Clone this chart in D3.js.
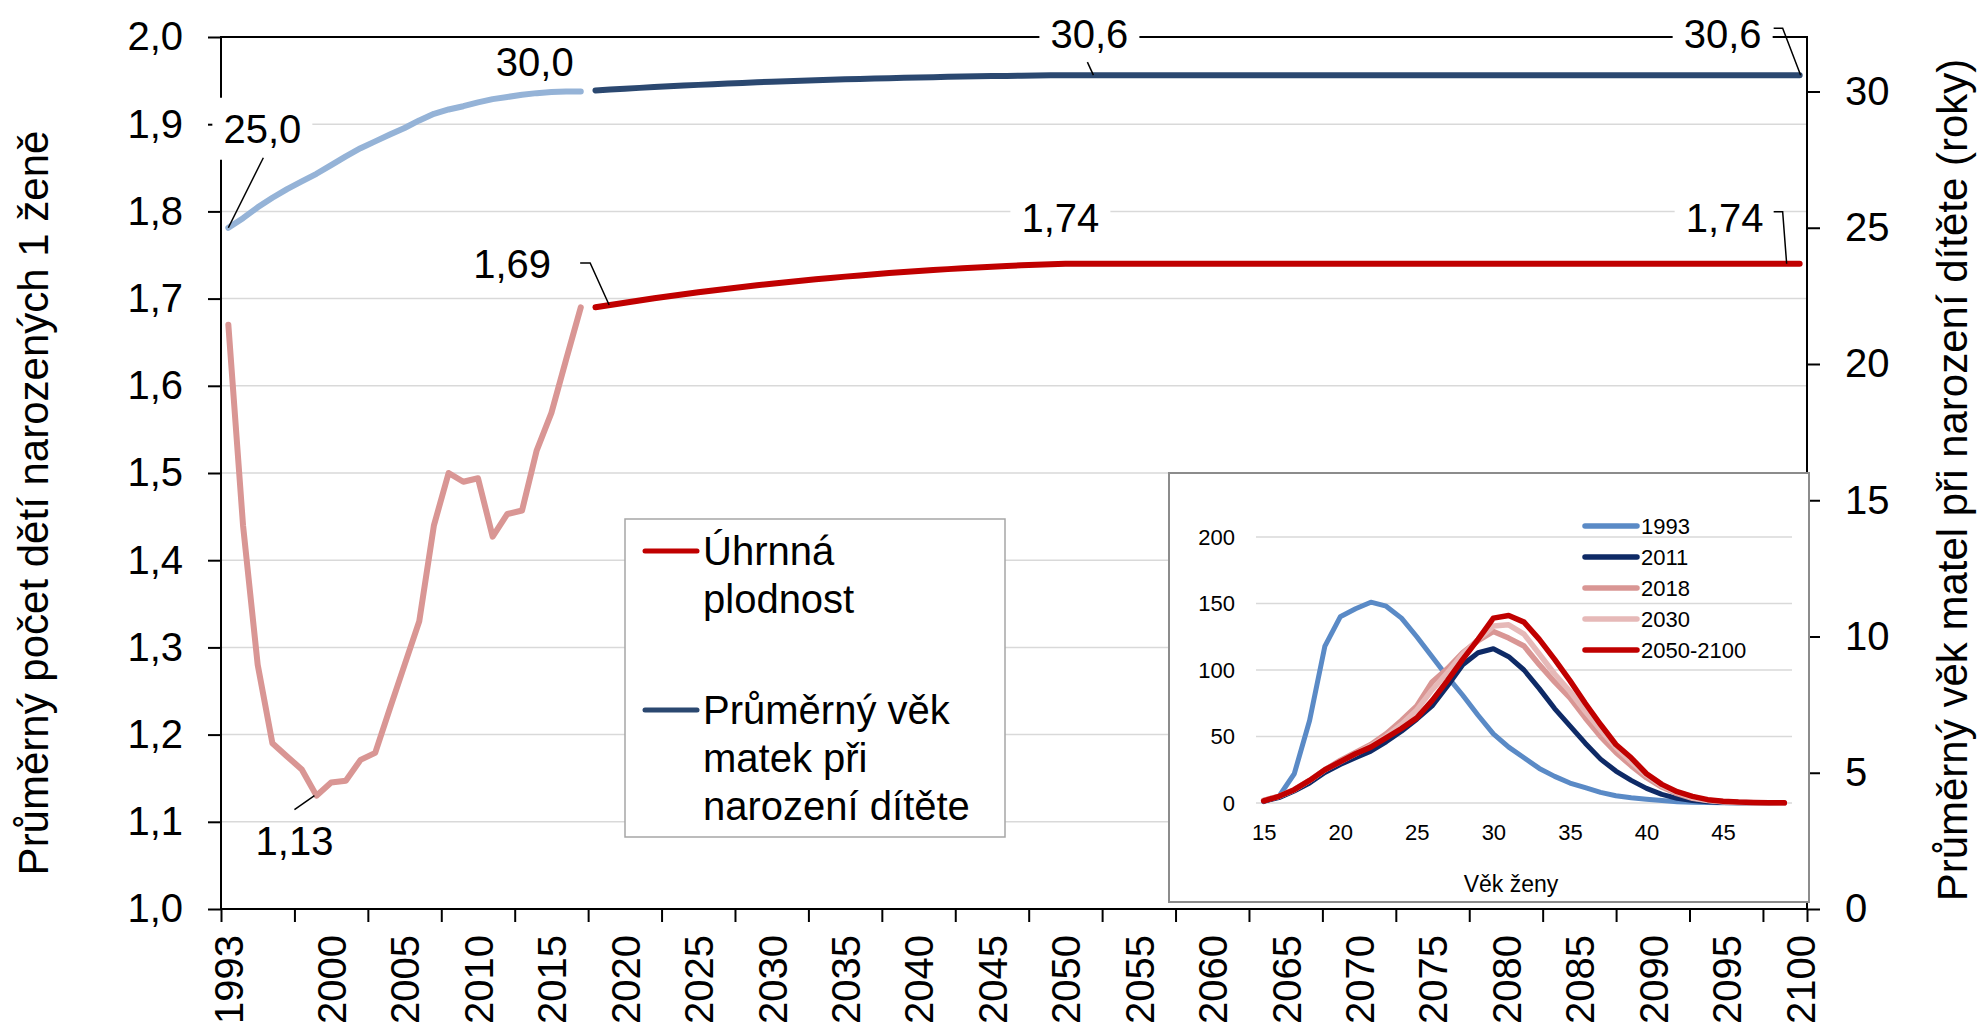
<!DOCTYPE html>
<html>
<head>
<meta charset="utf-8">
<script src="https://cdn.jsdelivr.net/npm/d3@7"></script>
<style>
  body { margin: 0; background: #fff; }
  svg { display: block; font-family: "Liberation Sans", Arial, sans-serif; }
</style>
</head>
<body>
<div id="chart"></div>
<script>
// skutečnost 1993-2017
const histYears = [1993, 1994, 1995, 1996, 1997, 1998, 1999, 2000, 2001, 2002, 2003, 2004, 2005,
                   2006, 2007, 2008, 2009, 2010, 2011, 2012, 2013, 2014, 2015, 2016, 2017];
const histTfr = [1.67, 1.44, 1.28, 1.19, 1.175, 1.16, 1.13, 1.145, 1.147, 1.171, 1.179, 1.23, 1.28,
                 1.33, 1.44, 1.50, 1.49, 1.494, 1.427, 1.453, 1.457, 1.526, 1.569, 1.63, 1.69];
const histAge = [25.0, 25.35, 25.75, 26.1, 26.42, 26.7, 26.98, 27.3, 27.62, 27.92, 28.17, 28.42, 28.66,
                 28.94, 29.18, 29.34, 29.46, 29.6, 29.72, 29.8, 29.88, 29.94, 29.98, 30.0, 30.0];

// projekce 2018-2100
const projYears = [2018, 2019, 2020, 2021, 2022, 2023, 2024, 2025, 2026, 2027, 2028, 2029, 2030,
                   2031, 2032, 2033, 2034, 2035, 2036, 2037, 2038, 2039, 2040, 2041, 2042, 2043,
                   2044, 2045, 2046, 2047, 2048, 2049, 2050, 2060, 2070, 2080, 2090, 2100];
const projTfr = [1.6900, 1.6927, 1.6953, 1.6979, 1.7003, 1.7027, 1.7050, 1.7072, 1.7093, 1.7113, 1.7133,
                 1.7152, 1.7170, 1.7188, 1.7205, 1.7221, 1.7237, 1.7252, 1.7266, 1.7280, 1.7293, 1.7305,
                 1.7317, 1.7328, 1.7338, 1.7348, 1.7357, 1.7366, 1.7374, 1.7382, 1.7389, 1.7395, 1.74,
                 1.74, 1.74, 1.74, 1.74, 1.74];
const projAge = [30.040, 30.072, 30.103, 30.133, 30.162, 30.190, 30.217, 30.243, 30.268, 30.292, 30.315,
                 30.337, 30.358, 30.378, 30.397, 30.415, 30.432, 30.448, 30.463, 30.477, 30.490, 30.503,
                 30.515, 30.526, 30.537, 30.547, 30.556, 30.565, 30.573, 30.580, 30.587, 30.594, 30.6,
                 30.6, 30.6, 30.6, 30.6, 30.6];

const tickYears = [1993, 2000, 2005, 2010, 2015, 2020, 2025, 2030, 2035, 2040, 2045, 2050,
                   2055, 2060, 2065, 2070, 2075, 2080, 2085, 2090, 2095, 2100];
const leftTicks = [1.0, 1.1, 1.2, 1.3, 1.4, 1.5, 1.6, 1.7, 1.8, 1.9, 2.0];
const rightTicks = [0, 5, 10, 15, 20, 25, 30];

// vložený graf - plodnost podle věku
const ages = [15, 16, 17, 18, 19, 20, 21, 22, 23, 24, 25, 26, 27, 28, 29, 30, 31, 32,
              33, 34, 35, 36, 37, 38, 39, 40, 41, 42, 43, 44, 45, 46, 47, 48, 49];
const asfr1993 = [1, 5, 22, 62, 118, 140, 146, 151, 148, 139, 125, 110, 95, 81, 66, 52, 42, 34,
                  26, 20, 15, 11.5, 8, 5.5, 4, 2.8, 1.8, 1, 0.6, 0.3, 0.2, 0.1, 0.05, 0.02, 0.01];
const asfr2011 = [1.5, 4, 9, 15, 23, 29, 34, 39, 46, 54, 63, 73, 88, 104, 113, 116, 110, 100,
                  86, 71, 58, 45, 33, 24, 17, 11, 6.5, 3.5, 1.8, 0.9, 0.4, 0.2, 0.1, 0.05, 0.02];
const asfr2018 = [2, 5, 10, 17, 25, 32, 38, 44, 52, 62, 73, 91, 101, 113, 122, 129, 124, 118,
                  104, 91, 79, 64, 50, 38, 28, 19, 12, 7, 3.5, 1.8, 0.9, 0.4, 0.2, 0.1, 0.05];
const asfr2030 = [2, 5, 10, 17, 25, 31, 37, 43, 50, 59, 70, 85, 98, 112, 123, 133, 134, 127,
                  112, 97, 84, 69, 55, 42, 31, 21, 13, 8, 4, 2, 1, 0.5, 0.2, 0.1, 0.05];
const asfr2050 = [1.5, 5, 10, 17, 25, 31, 37, 42, 49, 56, 64, 77, 92, 108, 123, 139, 141, 136,
                  123, 108, 92, 75, 59, 44, 34, 22, 14, 8.5, 5, 2.5, 1.3, 0.7, 0.4, 0.2, 0.1];
const insetNames = ["1993", "2011", "2018", "2030", "2050-2100"];
const insetValues = [asfr1993, asfr2011, asfr2018, asfr2030, asfr2050];
const insetColors = ["#5a8ac6", "#0e2a66", "#d99694", "#e6b9b8", "#c00000"];
const insetTicksX = [15, 20, 25, 30, 35, 40, 45];
const insetTicksY = [0, 50, 100, 150, 200];

const W = 1977, H = 1031;
const m = { left: 221, right: 1807, top: 37, bottom: 909 };

const cz = d3.formatLocale({ decimal: ",", thousands: " ", grouping: [3], currency: ["", " Kč"] });
const fmt1 = cz.format(".1f");
const fmt2 = cz.format(".2f");

const svg = d3.select("#chart").append("svg")
    .attr("width", W)
    .attr("height", H);

const x = d3.scaleLinear().domain([1992.5, 2100.5]).range([m.left, m.right]);
const yL = d3.scaleLinear().domain([1.0, 2.0]).range([m.bottom, m.top]);
const yR = d3.scaleLinear().domain([0, 32]).range([m.bottom, m.top]);

// mřížka
svg.append("g")
    .selectAll("line")
    .data(leftTicks.slice(1, -1))
    .enter()
    .append("line")
    .attr("x1", m.left).attr("x2", m.right)
    .attr("y1", d => yL(d)).attr("y2", d => yL(d))
    .attr("stroke", "#d9d9d9")
    .attr("stroke-width", 1.5);

function styleAxis(g, size) {
    g.attr("font-size", size).attr("font-family", null);
    g.select(".domain").remove();
    g.selectAll(".tick line").attr("stroke", "#000").attr("stroke-width", 2);
    g.selectAll("text").attr("fill", "#000");
}

// osy
svg.append("g")
    .attr("transform", `translate(${m.left},0)`)
    .call(d3.axisLeft(yL).tickValues(leftTicks).tickSize(13).tickPadding(25).tickFormat(fmt1))
    .call(g => styleAxis(g, 40));

svg.append("g")
    .attr("transform", `translate(${m.right},0)`)
    .call(d3.axisRight(yR).tickValues(rightTicks).tickSize(13).tickPadding(25).tickFormat(d3.format("d")))
    .call(g => styleAxis(g, 40));

const boundaries = d3.range(1992.5, 2100, 5).concat([2100.5]);
svg.append("g")
    .attr("transform", `translate(0,${m.bottom})`)
    .call(d3.axisBottom(x).tickValues(boundaries).tickSize(13).tickFormat(""))
    .call(g => styleAxis(g, 40));

svg.append("g")
    .attr("transform", `translate(0,${m.bottom})`)
    .call(d3.axisBottom(x).tickValues(tickYears).tickSize(0).tickFormat(d3.format("d")))
    .call(g => styleAxis(g, 40))
    .call(g => g.selectAll("text")
        .attr("transform", "rotate(-90)")
        .attr("x", -26)
        .attr("y", 0)
        .attr("dy", "0.36em")
        .attr("text-anchor", "end"));

// rámeček plochy
svg.append("rect")
    .attr("x", m.left).attr("y", m.top)
    .attr("width", m.right - m.left).attr("height", m.bottom - m.top)
    .attr("fill", "none")
    .attr("stroke", "#000")
    .attr("stroke-width", 2);

// názvy os
svg.append("text")
    .attr("transform", "translate(48,503) rotate(-90)")
    .attr("text-anchor", "middle")
    .attr("font-size", 42)
    .text("Průměrný počet dětí narozených 1 ženě");

svg.append("text")
    .attr("transform", "translate(1967,480) rotate(-90)")
    .attr("text-anchor", "middle")
    .attr("font-size", 42)
    .text("Průměrný věk matel při narození dítěte (roky)");

// křivky
const lineL = d3.line().x(d => x(d[0])).y(d => yL(d[1]));
const lineR = d3.line().x(d => x(d[0])).y(d => yR(d[1]));

const series = [
    { years: histYears, vals: histTfr, gen: lineL, color: "#d99694" },
    { years: projYears, vals: projTfr, gen: lineL, color: "#c00000" },
    { years: histYears, vals: histAge, gen: lineR, color: "#95b3d7" },
    { years: projYears, vals: projAge, gen: lineR, color: "#2b4870" }
];

svg.append("g")
    .selectAll("path")
    .data(series)
    .enter()
    .append("path")
    .attr("d", s => s.gen(d3.zip(s.years, s.vals)))
    .attr("fill", "none")
    .attr("stroke", s => s.color)
    .attr("stroke-width", 6)
    .attr("stroke-linejoin", "round")
    .attr("stroke-linecap", "round");

// popisky hodnot
function valueAt(years, vals, yr) { return vals[years.indexOf(yr)]; }

const labels = [
    { yr: 1993, v: valueAt(histYears, histAge, 1993), sc: yR, txt: fmt1(valueAt(histYears, histAge, 1993)),
      dx: 34, dy: -85, box: true, leader: [[0, 0], [35, -70]] },
    { yr: 2017, v: valueAt(histYears, histAge, 2017), sc: yR, txt: fmt1(valueAt(histYears, histAge, 2017)),
      dx: -46, dy: -16 },
    { yr: 2019, v: valueAt(projYears, projTfr, 2019), sc: yL, txt: fmt2(valueAt(histYears, histTfr, 2017)),
      dx: -98, dy: -27, leader: [[-1, 0], [-20, -42], [-30, -42]] },
    { yr: 1999, v: d3.min(histTfr), sc: yL, txt: fmt2(d3.min(histTfr)),
      dx: -22, dy: 59, leader: [[-2, 0], [-22, 14]] },
    { yr: 2050, v: valueAt(projYears, projTfr, 2050), sc: yL, txt: fmt2(valueAt(projYears, projTfr, 2050)),
      dx: -5, dy: -32, box: true },
    { yr: 2100, v: valueAt(projYears, projTfr, 2100), sc: yL, txt: fmt2(valueAt(projYears, projTfr, 2100)),
      dx: -75, dy: -32, box: true, leader: [[-13, 0], [-17, -52], [-26, -52]] },
    { yr: 2050, v: valueAt(projYears, projAge, 2050), sc: yR, txt: fmt1(valueAt(projYears, projAge, 2050)),
      dx: 24, dy: -27, box: true, leader: [[28, 0], [22, -13]] },
    { yr: 2100, v: valueAt(projYears, projAge, 2100), sc: yR, txt: fmt1(valueAt(projYears, projAge, 2100)),
      dx: -77, dy: -27, box: true, leader: [[1, 0], [-17, -47], [-26, -47]] }
];

const lab = svg.append("g").selectAll("g").data(labels).enter().append("g")
    .attr("transform", d => `translate(${x(d.yr)},${d.sc(d.v)})`);

lab.filter(d => d.box).append("rect")
    .attr("x", d => d.dx - 50)
    .attr("y", d => d.dy - 45)
    .attr("width", 100)
    .attr("height", 62)
    .attr("fill", "#fff");

lab.filter(d => d.leader).append("path")
    .attr("d", d => d3.line()(d.leader))
    .attr("fill", "none")
    .attr("stroke", "#000")
    .attr("stroke-width", 1.5);

lab.append("text")
    .attr("x", d => d.dx)
    .attr("y", d => d.dy)
    .attr("text-anchor", "middle")
    .attr("font-size", 40)
    .text(d => d.txt);

// legenda
const leg = svg.append("g");
leg.append("rect")
    .attr("x", 625).attr("y", 519)
    .attr("width", 380).attr("height", 318)
    .attr("fill", "#fff")
    .attr("stroke", "#a6a6a6")
    .attr("stroke-width", 1.5);

const legItems = [
    { color: "#c00000", lines: ["Úhrnná", "plodnost"], y: 551 },
    { color: "#2b4870", lines: ["Průměrný věk", "matek při", "narození dítěte"], y: 710 }
];
legItems.forEach(it => {
    leg.append("line")
        .attr("x1", 645).attr("x2", 697)
        .attr("y1", it.y).attr("y2", it.y)
        .attr("stroke", it.color)
        .attr("stroke-width", 5)
        .attr("stroke-linecap", "round");
    leg.append("text")
        .attr("font-size", 40)
        .selectAll("tspan")
        .data(it.lines)
        .enter()
        .append("tspan")
        .attr("x", 703)
        .attr("y", (d, i) => it.y + 14 + i * 48)
        .text(d => d);
});

// vložený graf
const inset = svg.append("g");
inset.append("rect")
    .attr("x", 1169).attr("y", 473)
    .attr("width", 640).attr("height", 429)
    .attr("fill", "#fff")
    .attr("stroke", "#8c8c8c")
    .attr("stroke-width", 2);

const xi = d3.scaleLinear().domain([14.5, 49.5]).range([1256, 1792]);
const yi = d3.scaleLinear().domain([0, 200]).range([803, 537]);

inset.append("g")
    .selectAll("line")
    .data(insetTicksY)
    .enter()
    .append("line")
    .attr("x1", xi.range()[0]).attr("x2", xi.range()[1])
    .attr("y1", d => yi(d)).attr("y2", d => yi(d))
    .attr("stroke", "#d9d9d9")
    .attr("stroke-width", 1.5);

inset.append("g")
    .attr("transform", `translate(${xi.range()[0]},0)`)
    .call(d3.axisLeft(yi).tickValues(insetTicksY).tickSize(0).tickPadding(21))
    .call(g => styleAxis(g, 22));

inset.append("g")
    .attr("transform", `translate(0,${yi(0)})`)
    .call(d3.axisBottom(xi).tickValues(insetTicksX).tickSize(0).tickPadding(21))
    .call(g => styleAxis(g, 22));

inset.append("text")
    .attr("x", 1511).attr("y", 892)
    .attr("text-anchor", "middle")
    .attr("font-size", 23)
    .text("Věk ženy");

const lineI = d3.line().x(d => xi(d[0])).y(d => yi(d[1]));
inset.append("g")
    .selectAll("path")
    .data(insetValues)
    .enter()
    .append("path")
    .attr("d", v => lineI(d3.zip(ages, v)))
    .attr("fill", "none")
    .attr("stroke", (v, i) => insetColors[i])
    .attr("stroke-width", (v, i) => i >= 2 ? 5.5 : 5)
    .attr("stroke-linejoin", "round")
    .attr("stroke-linecap", "round");

const ileg = inset.append("g").selectAll("g").data(insetNames).enter().append("g")
    .attr("transform", (d, i) => `translate(1583,${526 + i * 31})`);
ileg.append("line")
    .attr("x1", 2).attr("x2", 54)
    .attr("stroke", (d, i) => insetColors[i])
    .attr("stroke-width", 5.5)
    .attr("stroke-linecap", "round");
ileg.append("text")
    .attr("x", 58)
    .attr("dy", "0.35em")
    .attr("font-size", 22)
    .text(d => d);
</script>
</body>
</html>
